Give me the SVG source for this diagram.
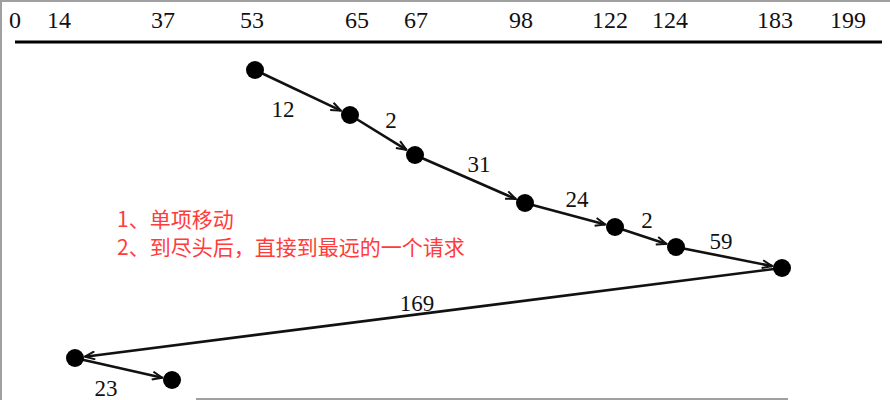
<svg xmlns="http://www.w3.org/2000/svg" width="890" height="400" viewBox="0 0 890 400">
<defs>
<style>
.axis{font-family:"Liberation Serif","Times New Roman",serif;font-size:24px;fill:#111;text-anchor:middle}
.lbl{font-family:"Liberation Serif","Times New Roman",serif;font-size:23px;fill:#111;text-anchor:middle}
.note{font-family:"Noto Sans CJK SC",sans-serif;font-size:21px;fill:#ff3b3b}
.edge{stroke:#111;stroke-width:2.6;fill:none;marker-end:url(#arr)}
.node{fill:#000}
.frame{stroke:#a0a0a0;stroke-width:2;fill:none}
</style>
<marker id="arr" viewBox="0 0 12 10" refX="11" refY="5" markerWidth="12" markerHeight="10" markerUnits="userSpaceOnUse" orient="auto">
<path d="M1,1 L11,5 L1,9" fill="none" stroke="#111" stroke-width="2"/>
</marker>
</defs>
<rect width="890" height="400" fill="#fff"/>
<g id="frame">
<line class="frame" x1="0" y1="1" x2="890" y2="1"/>
<line class="frame" x1="1" y1="0" x2="1" y2="400"/>
<line class="frame" x1="196" y1="399" x2="788" y2="399"/>
</g>
<g id="axis">
<line x1="15" y1="42" x2="882" y2="42" stroke="#000" stroke-width="3"/>
<text class="axis" x="15" y="28">0</text>
<text class="axis" x="59" y="28">14</text>
<text class="axis" x="163" y="28">37</text>
<text class="axis" x="252" y="28">53</text>
<text class="axis" x="357" y="28">65</text>
<text class="axis" x="416" y="28">67</text>
<text class="axis" x="521" y="28">98</text>
<text class="axis" x="610" y="28">122</text>
<text class="axis" x="670" y="28">124</text>
<text class="axis" x="775" y="28">183</text>
<text class="axis" x="848" y="28">199</text>
</g>
<g id="connectors">
<line class="edge" x1="255" y1="70" x2="340.9" y2="110.7"/>
<line class="edge" x1="350" y1="115" x2="406.5" y2="149.8"/>
<line class="edge" x1="415" y1="155" x2="515.8" y2="199"/>
<line class="edge" x1="525" y1="203" x2="605.3" y2="224.4"/>
<line class="edge" x1="615" y1="227" x2="666.5" y2="243.9"/>
<line class="edge" x1="676" y1="247" x2="772.2" y2="266.1"/>
<line class="edge" x1="782" y1="268" x2="84.9" y2="356.7"/>
<line class="edge" x1="75" y1="358" x2="162.3" y2="377.8"/>
</g>
<g id="edge-labels">
<text class="lbl" x="283" y="117">12</text>
<text class="lbl" x="391" y="128">2</text>
<text class="lbl" x="479" y="172">31</text>
<text class="lbl" x="577" y="207">24</text>
<text class="lbl" x="647" y="228">2</text>
<text class="lbl" x="721" y="249">59</text>
<text class="lbl" x="417" y="311">169</text>
<text class="lbl" x="106" y="396">23</text>
</g>
<g id="n53"><circle class="node" cx="255" cy="70" r="9"/></g>
<g id="n65"><circle class="node" cx="350" cy="115" r="9"/></g>
<g id="n67"><circle class="node" cx="415" cy="155" r="9"/></g>
<g id="n98"><circle class="node" cx="525" cy="203" r="9"/></g>
<g id="n122"><circle class="node" cx="615" cy="227" r="9"/></g>
<g id="n124"><circle class="node" cx="676" cy="247" r="9"/></g>
<g id="n183"><circle class="node" cx="782" cy="268" r="9"/></g>
<g id="n14"><circle class="node" cx="75" cy="358" r="9"/></g>
<g id="n37"><circle class="node" cx="172" cy="380" r="9"/></g>
<g id="note">
<text class="note" x="117" y="227">1、单项移动</text>
<text class="note" x="117" y="255">2、到尽头后，直接到最远的一个请求</text>
</g>
</svg>
